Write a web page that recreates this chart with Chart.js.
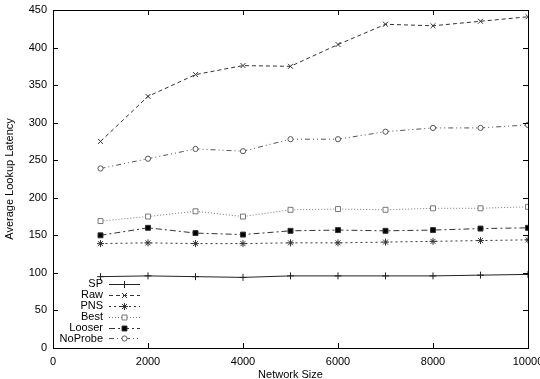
<!DOCTYPE html>
<html>
<head>
<meta charset="utf-8">
<script src="https://cdn.jsdelivr.net/npm/chart.js@4/dist/chart.umd.min.js"></script>
<style>
  html, body { margin: 0; padding: 0; background: #fff; }
  #wrap { width: 540px; height: 379px; }
</style>
</head>
<body>
<div id="wrap"><canvas id="myChart" width="540" height="379"></canvas></div>
<script>
// network sizes on the x axis
const sizes = [1000, 2000, 3000, 4000, 5000, 6000, 7000, 8000, 9000, 10000];

// average lookup latency per scheme
const sp      = [95, 96, 95, 94, 96, 96, 96, 96, 97, 98];
const raw     = [275, 335, 364, 376, 375, 404, 431, 429, 435, 441];
const pns     = [139, 140, 139, 139, 140, 140, 141, 142, 143, 144];
const best    = [169, 175, 182, 175, 184, 185, 184, 186, 186, 188];
const looser  = [150, 160, 153, 151, 156, 157, 156, 157, 159, 160];
const noprobe = [239, 252, 265, 262, 278, 278, 288, 293, 293, 297];

const xTicks = [0, 2000, 4000, 6000, 8000, 10000];
const yTicks = [0, 50, 100, 150, 200, 250, 300, 350, 400, 450];

const FONT = 'Liberation Sans, Arial, sans-serif';

function pts(ys) {
  return sizes.map((x, i) => ({x: x, y: ys[i]}));
}

function series(label, ys, color, dash, style, fill, r) {
  return {
    label: label,
    data: pts(ys),
    borderColor: color,
    borderWidth: 1,
    borderDash: dash,
    pointStyle: style,
    pointRadius: r,
    pointBorderColor: color,
    pointBorderWidth: 1,
    pointBackgroundColor: fill,
    backgroundColor: fill,
    tension: 0
  };
}

const data = {
  datasets: [
    series('SP', sp, '#222', [], 'cross', '#222', 3.5),
    series('Raw', raw, '#333', [4, 3], 'crossRot', '#333', 3.5),
    series('PNS', pns, '#333', [2, 3], 'star', '#333', 3.5),
    series('Best', best, '#777', [1, 2], 'rect', '#fff', 3.5),
    series('Looser', looser, '#333', [6, 3, 2, 3], 'rect', '#000', 3.5),
    series('NoProbe', noprobe, '#555', [5, 3, 1, 3, 1, 3], 'circle', '#fff', 2.6)
  ]
};

// gnuplot-like frame with inward ticks on all sides
const framePlugin = {
  id: 'frame',
  afterDatasetsDraw(chart) {
    const ctx = chart.ctx;
    const a = chart.chartArea;
    const xs = chart.scales.x, ys = chart.scales.y;
    ctx.save();
    ctx.strokeStyle = '#000';
    ctx.lineWidth = 1;
    ctx.setLineDash([]);
    ctx.beginPath();
    xTicks.forEach(v => {
      const px = Math.round(xs.getPixelForValue(v)) + 0.5;
      ctx.moveTo(px, a.bottom); ctx.lineTo(px, a.bottom - 5);
      ctx.moveTo(px, a.top); ctx.lineTo(px, a.top + 5);
    });
    yTicks.forEach(v => {
      const py = Math.round(ys.getPixelForValue(v)) + 0.5;
      ctx.moveTo(a.left, py); ctx.lineTo(a.left + 5, py);
      ctx.moveTo(a.right, py); ctx.lineTo(a.right - 5, py);
    });
    ctx.stroke();
    ctx.strokeRect(Math.round(a.left) + 0.5, Math.round(a.top) + 0.5,
                   Math.round(a.right - a.left), Math.round(a.bottom - a.top));
    ctx.restore();
  }
};

// key in the lower left, labels right-aligned then a sample
const keyPlugin = {
  id: 'key',
  afterDatasetsDraw(chart) {
    const ctx = chart.ctx;
    const a = chart.chartArea;
    const rowH = 10.9;
    const textRight = a.left + 50;
    const lineX0 = a.left + 56, lineX1 = a.left + 87;
    let y = a.bottom - 64;
    ctx.save();
    ctx.font = '11px ' + FONT;
    ctx.textAlign = 'right';
    ctx.textBaseline = 'middle';
    chart.data.datasets.forEach((ds) => {
      ctx.fillStyle = '#000';
      ctx.fillText(ds.label, textRight, y);
      const yy = Math.round(y) + 0.5;
      ctx.strokeStyle = ds.borderColor;
      ctx.lineWidth = 1;
      ctx.setLineDash(ds.borderDash);
      ctx.beginPath();
      ctx.moveTo(lineX0, yy);
      ctx.lineTo(lineX1, yy);
      ctx.stroke();
      ctx.setLineDash([]);
      ctx.fillStyle = ds.pointBackgroundColor;
      ctx.strokeStyle = ds.pointBorderColor;
      Chart.helpers.drawPoint(ctx, {
        pointStyle: ds.pointStyle, radius: ds.pointRadius, borderWidth: 1, rotation: 0
      }, (lineX0 + lineX1) / 2, yy);
      y += rowH;
    });
    ctx.restore();
  }
};

const config = {
  type: 'line',
  data: data,
  options: {
    responsive: false,
    animation: false,
    layout: { padding: { top: 10, right: 12, left: 0, bottom: 0 } },
    plugins: {
      legend: { display: false },
      tooltip: { enabled: false }
    },
    scales: {
      x: {
        type: 'linear',
        min: 0,
        max: 10000,
        afterBuildTicks: s => { s.ticks = xTicks.map(v => ({value: v})); },
        afterFit: s => { s.height = 31; s.paddingLeft = 0; s.paddingRight = 0; },
        grid: { display: false, drawTicks: false },
        border: { display: false },
        ticks: {
          color: '#000',
          padding: 7,
          maxRotation: 0,
          autoSkip: false,
          font: { family: FONT, size: 11 },
          callback: v => String(v)
        },
        title: {
          display: true,
          text: 'Network Size',
          color: '#000',
          padding: { top: 5, bottom: -3 },
          font: { family: FONT, size: 11 }
        }
      },
      y: {
        min: 0,
        max: 450,
        afterBuildTicks: s => { s.ticks = yTicks.map(v => ({value: v})); },
        afterFit: s => { s.width = 53; s.paddingTop = 0; s.paddingBottom = 0; },
        grid: { display: false, drawTicks: false },
        border: { display: false },
        ticks: {
          color: '#000',
          padding: 6,
          autoSkip: false,
          font: { family: FONT, size: 11 }
        },
        title: {
          display: true,
          text: 'Average Lookup Latency',
          color: '#000',
          padding: { top: 3, bottom: 4 },
          font: { family: FONT, size: 11 }
        }
      }
    }
  },
  plugins: [framePlugin, keyPlugin]
};

var myChart = new Chart(document.getElementById('myChart'), config);
</script>
</body>
</html>
